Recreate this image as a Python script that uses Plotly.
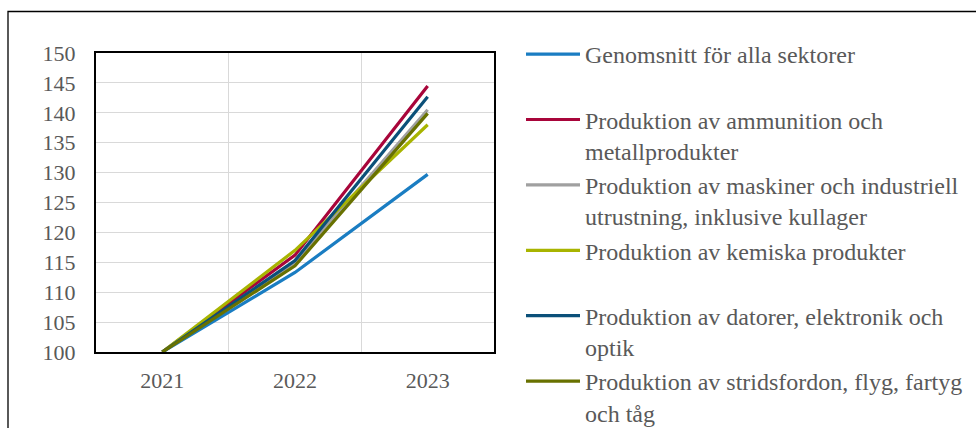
import plotly.graph_objects as go

years = ["2021", "2022", "2023"]
series_names = [
    "Genomsnitt för alla sektorer",
    "Produktion av ammunition och<br>metallprodukter",
    "Produktion av maskiner och industriell<br>utrustning, inklusive kullager",
    "Produktion av kemiska produkter",
    "Produktion av datorer, elektronik och<br>optik",
    "Produktion av stridsfordon, flyg, fartyg<br>och tåg",
]
genomsnitt = [100, 113.3, 129.7]
ammunition = [100, 116.2, 144.5]
maskiner = [100, 115.0, 140.5]
kemiska = [100, 117.0, 138.0]
datorer = [100, 115.3, 142.7]
stridsfordon = [100, 114.4, 139.9]
values = [genomsnitt, ammunition, maskiner, kemiska, datorer, stridsfordon]
colors = ["#1A7DC2", "#A8053A", "#A0A0A0", "#A8B400", "#0B5079", "#687100"]
yticks = list(range(100, 151, 5))

FONT = "Liberation Serif, Times New Roman, serif"
TXT = "#595959"

fig = go.Figure()
for i, (name, vals, col) in enumerate(zip(series_names, values, colors)):
    label = name if "<br>" in name else name + "<br> "
    fig.add_trace(go.Scatter(
        x=years, y=vals, mode="lines", name=label,
        line=dict(color=col, width=3.2),
        legendgroup=f"g{i}",
    ))

L, T, W, H = 96, 53, 398, 299
FW, FH = 976, 428
fig.update_layout(
    width=FW, height=FH,
    margin=dict(l=L, r=FW - L - W, t=T, b=FH - T - H, pad=0),
    paper_bgcolor="white", plot_bgcolor="white",
    font=dict(family=FONT, size=22, color=TXT),
    showlegend=True,
    legend=dict(
        xref="container", yref="container",
        x=521 / FW, xanchor="left",
        y=1 - 32 / FH, yanchor="top",
        bgcolor="rgba(0,0,0,0)",
        font=dict(family=FONT, size=24, color=TXT),
        valign="top", itemwidth=54, tracegroupgap=9,
        traceorder="normal", maxheight=600,
    ),
    xaxis=dict(
        type="category", range=[-0.5, 2.5], tickson="boundaries", showgrid=True,
        gridcolor="#D9D9D9", gridwidth=1.4,
        showline=True, linecolor="black", linewidth=2, mirror=True,
        ticks="", ticklabelstandoff=8, zeroline=False,
    ),
    yaxis=dict(
        range=[100, 150], tickvals=yticks, showgrid=True,
        gridcolor="#D9D9D9", gridwidth=1.4,
        showline=True, linecolor="black", linewidth=2, mirror=True,
        ticks="", ticklabelstandoff=14, zeroline=False,
    ),
    shapes=[dict(
        type="rect", xref="paper", yref="paper",
        x0=(8 - L) / W, x1=(1000 - L) / W,
        y0=(352 - 460) / H, y1=(352 - 11.5) / H,
        line=dict(color="black", width=1.3), fillcolor="rgba(0,0,0,0)",
        layer="below",
    )],
)

fig.write_html("out.html")
